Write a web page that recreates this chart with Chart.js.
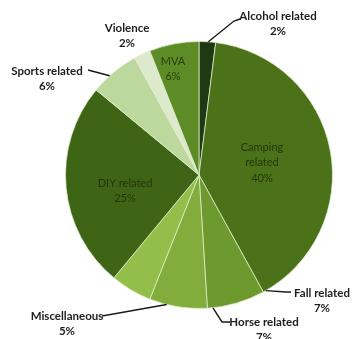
<!DOCTYPE html>
<html>
<head>
<meta charset="utf-8">
<script src="https://cdn.jsdelivr.net/npm/chart.js@4/dist/chart.umd.min.js"></script>
<style>
  html, body { margin: 0; padding: 0; background: #fff; }
  #wrap { width: 354px; height: 339px; }
</style>
</head>
<body>
<div id="wrap"><canvas id="c" width="354" height="339"></canvas></div>
<script>
// Injury causes, clockwise from 12 o'clock
const categories = ['Alcohol related', 'Camping related', 'Fall related', 'Horse related',
                    'Miscellaneous', 'DIY related', 'Sports related', 'Violence', 'MVA'];
const shares = [2, 40, 7, 7, 5, 25, 6, 2, 6];
const sliceColors = ['#1f3a12', '#4b7119', '#6c9a2e', '#80ad3b', '#91bf49',
                     '#3e6515', '#bdd89c', '#dde9cd', '#5d8c27'];

// Label layout: name lines, text centre, inside/outside, optional leader line
// (leader starts on the rim at `angle` degrees clockwise from top, then runs through `path`)
const labelLayout = [
  { i: 0, lines: ['Alcohol related', '2%'], x: 278, y: 16, inside: false, angle: 4, path: [[234, 21], [240, 19]] },
  { i: 1, lines: ['Camping', 'related', '40%'], x: 262, y: 147, inside: true },
  { i: 2, lines: ['Fall related', '7%'], x: 322, y: 293, inside: false, angle: 150, path: [[286, 292], [291, 292]] },
  { i: 3, lines: ['Horse related', '7%'], x: 264, y: 322, inside: false, angle: 174, path: [[222, 322], [230, 322]] },
  { i: 4, lines: ['Miscellaneous', '5%'], x: 67, y: 316, inside: false, angle: 194, path: [[102, 316]] },
  { i: 5, lines: ['DIY related', '25%'], x: 125, y: 183, inside: true },
  { i: 6, lines: ['Sports related', '6%'], x: 47, y: 71, inside: false, angle: 318, path: [[88, 70]] },
  { i: 7, lines: ['Violence', '2%'], x: 127, y: 28, inside: false },
  { i: 8, lines: ['MVA', '6%'], x: 173, y: 61, inside: true }
];

const labelPlugin = {
  id: 'sliceLabels',
  afterDatasetsDraw(chart) {
    const ctx = chart.ctx;
    const arc = chart.getDatasetMeta(0).data[0];
    const cx = arc.x, cy = arc.y, r = arc.outerRadius;
    ctx.save();
    ctx.textAlign = 'center';
    ctx.textBaseline = 'middle';
    labelLayout.forEach(l => {
      if (l.angle !== undefined) {
        const a = l.angle * Math.PI / 180;
        ctx.beginPath();
        ctx.moveTo(cx + r * Math.sin(a), cy - r * Math.cos(a));
        l.path.forEach(p => ctx.lineTo(p[0], p[1]));
        ctx.strokeStyle = '#1a1a1a';
        ctx.lineWidth = 1.4;
        ctx.stroke();
      }
      if (l.inside) {
        ctx.font = '11px Lato, "Liberation Sans", sans-serif';
        ctx.fillStyle = 'rgba(25,40,8,0.8)';
      } else {
        ctx.font = 'bold 11.5px Lato, "Liberation Sans", sans-serif';
        ctx.fillStyle = '#1e1e1e';
      }
      const step = l.inside ? 15.5 : 15.5;
      l.lines.forEach((t, k) => ctx.fillText(t, l.x, l.y + k * step));
    });
    ctx.restore();
  }
};

new Chart(document.getElementById('c'), {
  type: 'pie',
  data: {
    labels: categories,
    datasets: [{
      data: shares,
      backgroundColor: sliceColors,
      borderColor: 'rgba(225,238,205,0.75)',
      borderWidth: 1
    }]
  },
  options: {
    responsive: false,
    animation: false,
    layout: { padding: { left: 65, right: 21, top: 41, bottom: 30 } },
    plugins: {
      legend: { display: false },
      tooltip: { enabled: false },
      title: { display: false }
    }
  },
  plugins: [labelPlugin]
});
</script>
</body>
</html>
